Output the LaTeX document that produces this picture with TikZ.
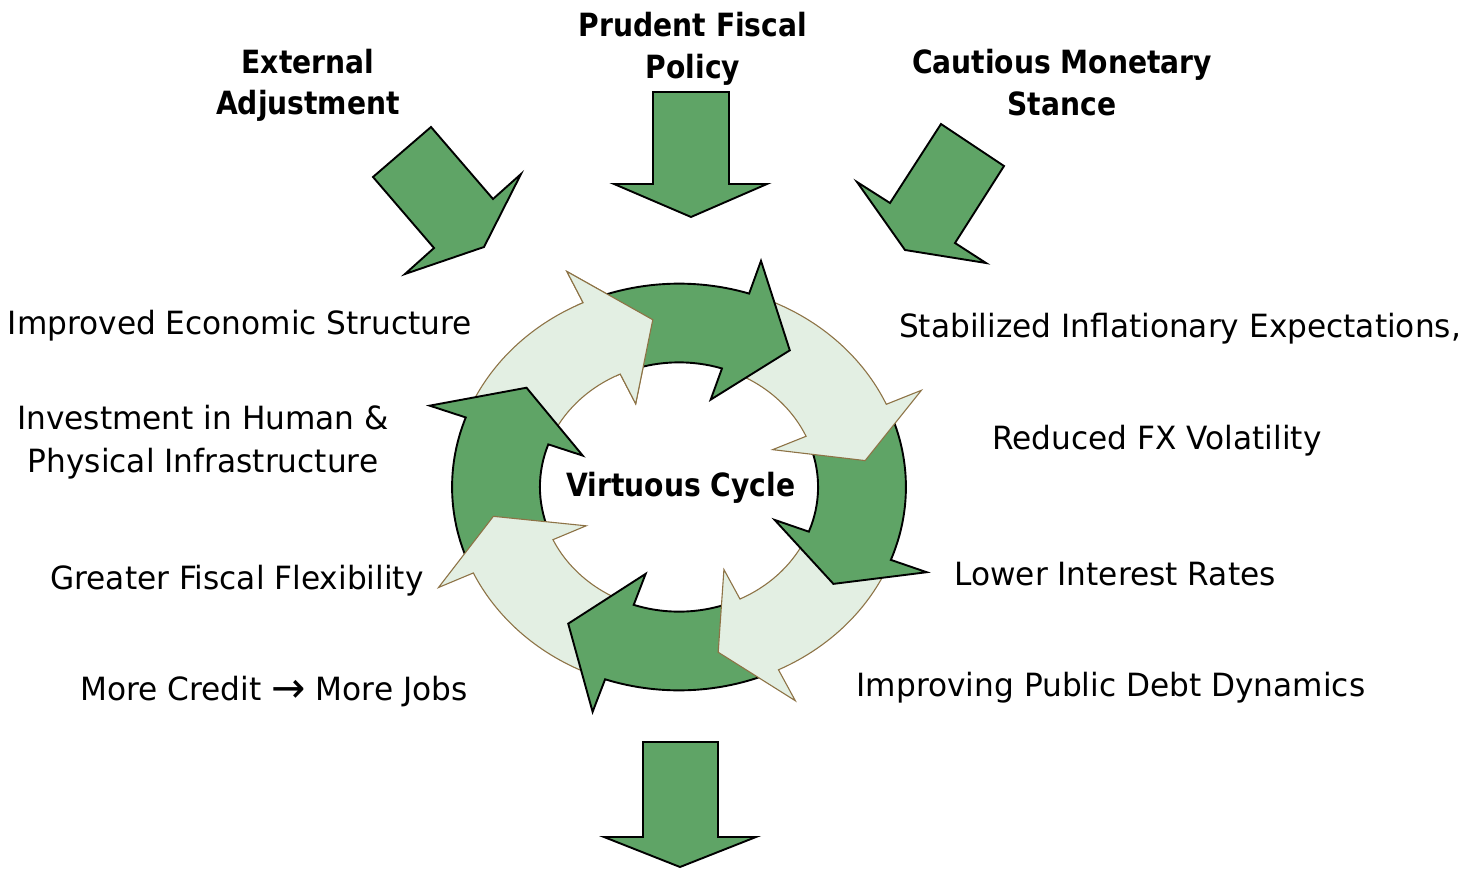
\documentclass[tikz,border=0pt]{standalone}
\usepackage{fontspec}
\setmainfont{DejaVu Sans}[FakeStretch=0.975, BoldFeatures={FakeStretch=0.88}]
\definecolor{dkgreen}{HTML}{5FA466}
\definecolor{ltgreen}{HTML}{E3EFE3}
\definecolor{ltedge}{HTML}{8D7346}
\tikzset{
  darkarrow/.style={fill=dkgreen, draw=black, line width=1.9pt, line join=miter},
  lightarrow/.style={fill=ltgreen, draw=ltedge, line width=1.1pt, line join=miter},
  blockarrow/.style={fill=dkgreen, draw=black, line width=1.9pt, line join=miter},
  lbl/.style={anchor=base, inner sep=0pt, font=\fontsize{32}{42}\selectfont},
  blbl/.style={anchor=base, inner sep=0pt, font=\fontsize{32}{42}\selectfont\bfseries},
}
% #1 style, #2 tail angle, #3 neck angle, #4 tip angle
\newcommand{\ringarrow}[4]{%
  \path[#1] (#2:1.24) arc[start angle=#2, end angle=#3, radius=1.24]
    -- (#3:1.45) -- (#4:1.03) -- (#3:0.56) -- (#3:0.76)
    arc[start angle=#3, end angle=#2, radius=0.76] -- cycle;}
\begin{document}
\begin{tikzpicture}[x=1pt, y=-1pt]
\useasboundingbox (0,0) rectangle (1477,869);

% cycle of arrows
\begin{scope}[shift={(679,487)}, xscale=183, yscale=-164]
  \ringarrow{lightarrow}{155}{115}{98}
  \ringarrow{darkarrow}{200}{160}{144}
  \ringarrow{lightarrow}{-114}{-155}{-170}
  \ringarrow{darkarrow}{-69}{-109}{-126}
  \ringarrow{lightarrow}{-26}{-64}{-78}
  \ringarrow{darkarrow}{19}{-21}{-35}
  \ringarrow{lightarrow}{67}{24}{9}
  \ringarrow{darkarrow}{110}{72}{54}
  \begin{scope}
    \clip (0,0) -- (117:2) arc[start angle=117, end angle=88, radius=2] -- cycle;
    \ringarrow{lightarrow}{155}{115}{98}
  \end{scope}
\end{scope}

% block arrows
\path[blockarrow] (431,127) -- (493,199) -- (521,174) -- (484,247) -- (405,274) -- (434,248) -- (373,177) -- cycle;
\path[blockarrow] (653,92) -- (729,92) -- (729,184) -- (767,184) -- (691,217) -- (614,184) -- (653,184) -- cycle;
\path[blockarrow] (941,124) -- (1004,166) -- (955,243) -- (986,263) -- (905,250) -- (857,182) -- (890,203) -- cycle;
\path[blockarrow] (643,742) -- (718,742) -- (718,837) -- (756,837) -- (680,867) -- (604,837) -- (643,837) -- cycle;

% top labels
\node[blbl] (ext1) at (308,74) {External};
\node[blbl] (ext2) at (308,115) {Adjustment};
\node[blbl] (pru1) at (693,37) {Prudent Fiscal};
\node[blbl] (pru2) at (693,79) {Policy};
\node[blbl] (cau1) at (1062,74) {Cautious Monetary};
\node[blbl] (cau2) at (1062,116) {Stance};

% centre
\node[blbl] (vc) at (681,496) {Virtuous Cycle};

% left labels
\node[lbl] (imp) at (240,334) {Improved Economic Structure};
\node[lbl] (inv1) at (203,429) {Investment in Human \&};
\node[lbl] (inv2) at (203,472) {Physical Infrastructure};
\node[lbl] (gfl) at (237,589) {Greater Fiscal Flexibility};
\node[lbl] (mcr) at (274,700) {More Credit {\fontsize{42}{42}\selectfont\raisebox{-2pt}{→}} More Jobs};

% right labels
\node[lbl] (sie) at (1180,337) {Stabilized Inflationary Expectations,};
\node[lbl] (rfx) at (1157,449) {Reduced FX Volatility};
\node[lbl] (lir) at (1115,585) {Lower Interest Rates};
\node[lbl] (ipd) at (1111,696) {Improving Public Debt Dynamics};
\end{tikzpicture}
\end{document}
